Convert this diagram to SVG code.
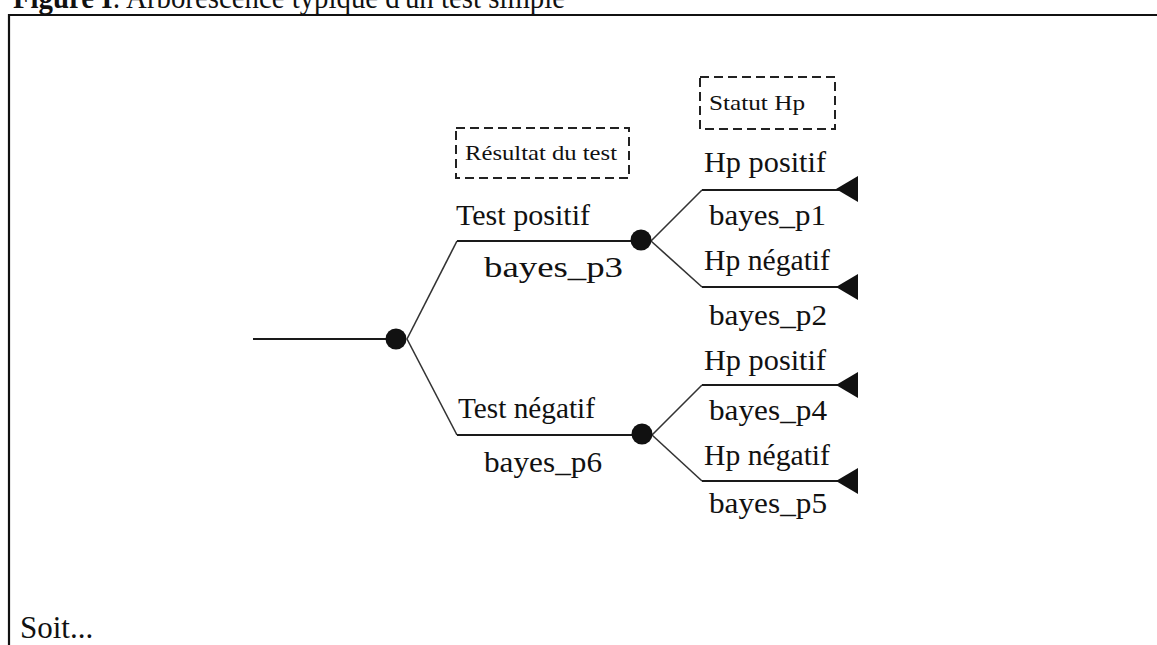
<svg xmlns="http://www.w3.org/2000/svg" width="1157" height="645" viewBox="0 0 1157 645">
  <style>
    .frame { stroke: #111; stroke-width: 2.2; fill: none; }
    .edge { stroke: #1a1a1a; stroke-width: 2; fill: none; }
    .diag { stroke: #333; stroke-width: 1.6; fill: none; }
    .chance { fill: #111; }
    .term { fill: #111; }
    .lbl { font-family: "Liberation Serif", "Times New Roman", serif; font-size: 29px; fill: #111; }
    .cap { font-family: "Liberation Serif", "Times New Roman", serif; font-size: 22px; fill: #111; }
    .hdr { fill: none; stroke: #222; stroke-width: 2; stroke-dasharray: 9 5; }
    .title { font-family: "Liberation Serif", "Times New Roman", serif; font-size: 31px; fill: #111; }
  </style>
  <rect width="1157" height="645" fill="#fff"/>

  <!-- caption, clipped by the top of the page -->
  <text class="title" x="13" y="8" textLength="552" lengthAdjust="spacingAndGlyphs"><tspan font-weight="bold">Figure I</tspan>: Arborescence typique d'un test simple</text>

  <!-- frame -->
  <path class="frame" d="M9,645 V15 H1157"/>

  <!-- column headers -->
  <g id="hdr-test">
    <rect class="hdr" x="456" y="128" width="173" height="50"/>
    <text class="cap" x="465" y="160" textLength="152" lengthAdjust="spacingAndGlyphs">Résultat du test</text>
  </g>
  <g id="hdr-hp">
    <rect class="hdr" x="700" y="77" width="135" height="52"/>
    <text class="cap" x="709" y="110" textLength="96" lengthAdjust="spacingAndGlyphs">Statut Hp</text>
  </g>

  <!-- connectors -->
  <g id="connectors">
    <path class="edge" d="M253,339 H396"/>
    <path class="diag" d="M407,339 L457,241"/>
    <path class="edge" d="M457,241 H641"/>
    <path class="diag" d="M407,339 L457,435"/>
    <path class="edge" d="M457,435 H642"/>
    <path class="diag" d="M651,241 L702,190"/>
    <path class="edge" d="M702,190 H846"/>
    <path class="diag" d="M651,241 L702,287"/>
    <path class="edge" d="M702,287 H846"/>
    <path class="diag" d="M652,435 L702,385"/>
    <path class="edge" d="M702,385 H846"/>
    <path class="diag" d="M652,435 L702,481"/>
    <path class="edge" d="M702,481 H846"/>
  </g>

  <!-- chance nodes -->
  <g id="root"><circle class="chance" cx="396" cy="339" r="10.5"/></g>
  <g id="test-pos"><circle class="chance" cx="641" cy="240" r="10.5"/></g>
  <g id="test-neg"><circle class="chance" cx="642" cy="434" r="10.5"/></g>

  <!-- terminal nodes -->
  <g id="t1"><polygon class="term" points="836,189 858,176 858,202"/></g>
  <g id="t2"><polygon class="term" points="836,287 858,274 858,300"/></g>
  <g id="t3"><polygon class="term" points="836,385 858,372 858,398"/></g>
  <g id="t4"><polygon class="term" points="836,481 858,468 858,494"/></g>

  <!-- branch labels -->
  <g id="labels">
    <text class="lbl" x="456" y="225" textLength="134" lengthAdjust="spacingAndGlyphs">Test positif</text>
    <text class="lbl" x="484" y="277" textLength="139" lengthAdjust="spacingAndGlyphs">bayes_p3</text>
    <text class="lbl" x="458" y="418" textLength="137" lengthAdjust="spacingAndGlyphs">Test négatif</text>
    <text class="lbl" x="484" y="472" textLength="118" lengthAdjust="spacingAndGlyphs">bayes_p6</text>
    <text class="lbl" x="704" y="172" textLength="122" lengthAdjust="spacingAndGlyphs">Hp positif</text>
    <text class="lbl" x="709" y="225" textLength="117" lengthAdjust="spacingAndGlyphs">bayes_p1</text>
    <text class="lbl" x="704" y="270" textLength="126" lengthAdjust="spacingAndGlyphs">Hp négatif</text>
    <text class="lbl" x="709" y="325" textLength="118" lengthAdjust="spacingAndGlyphs">bayes_p2</text>
    <text class="lbl" x="704" y="370" textLength="122" lengthAdjust="spacingAndGlyphs">Hp positif</text>
    <text class="lbl" x="709" y="420" textLength="118" lengthAdjust="spacingAndGlyphs">bayes_p4</text>
    <text class="lbl" x="704" y="465" textLength="126" lengthAdjust="spacingAndGlyphs">Hp négatif</text>
    <text class="lbl" x="709" y="513" textLength="118" lengthAdjust="spacingAndGlyphs">bayes_p5</text>
  </g>

  <text class="title" x="20" y="638">Soit...</text>
</svg>
